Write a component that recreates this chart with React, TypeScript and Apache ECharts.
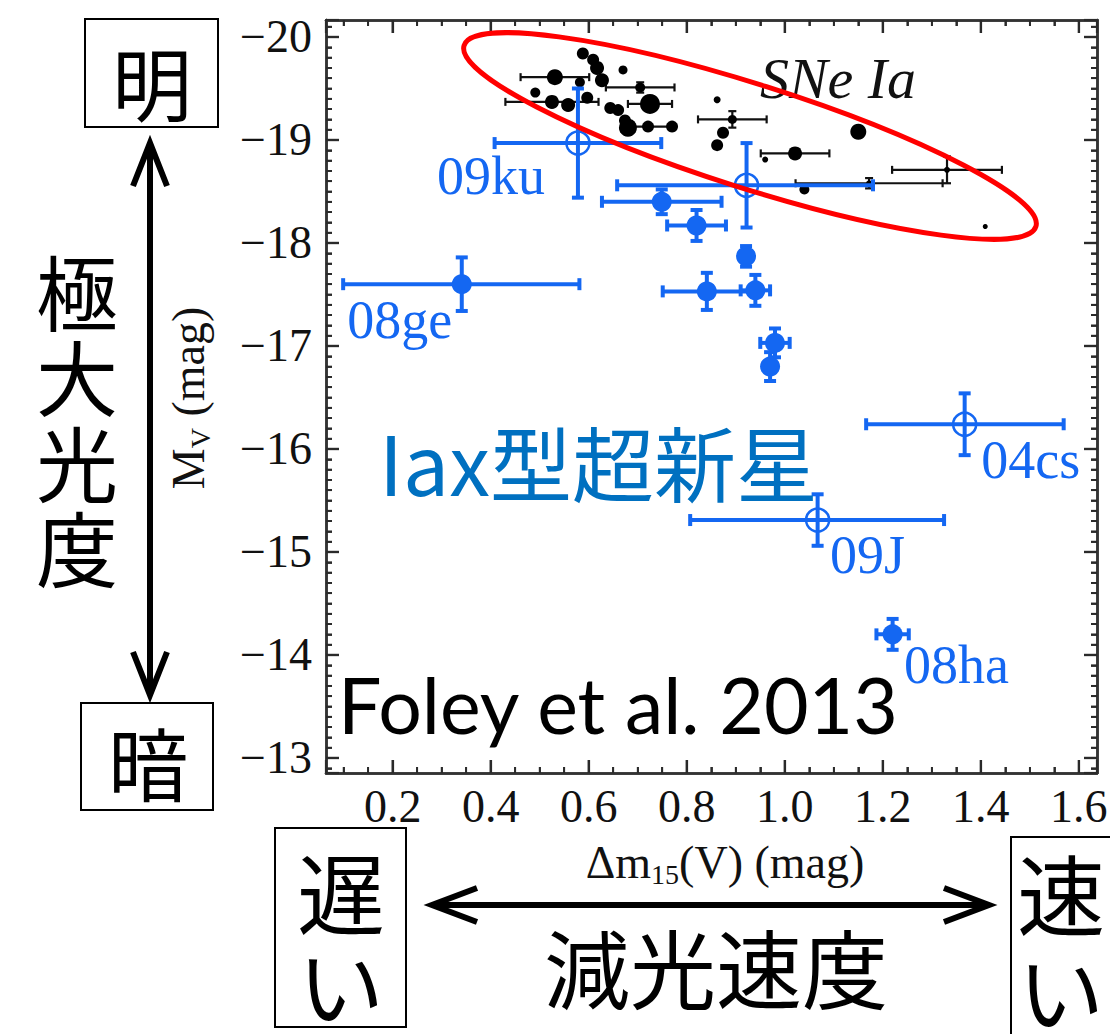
import React, { useEffect, useRef } from 'react';
import * as echarts from 'echarts';

// ---- axis ranges & ticks ----
const X_MIN = 0.064;
const X_MAX = 1.637;
const Y_MIN = -20.165;
const Y_MAX = -12.854;
const X_MAJOR = 0.2;
const X_MINOR = 0.05;
const Y_MAJOR = 1;
const Y_MINOR = 0.1;

// ---- normal SNe Ia (black) ----
const snIaDm15 = [0.588, 0.609, 0.617, 0.627, 0.531, 0.670, 0.491, 0.525, 0.558, 0.582, 0.597, 0.644, 0.660, 0.674, 0.680, 0.705, 0.725, 0.721, 0.770, 0.862, 0.893, 0.874, 0.862, 1.150, 1.021, 0.960, 1.040, 1.172, 1.331, 1.409];
const snIaMv = [-19.84, -19.78, -19.70, -19.58, -19.61, -19.68, -19.46, -19.37, -19.34, -19.56, -19.41, -19.31, -19.29, -19.19, -19.12, -19.51, -19.35, -19.13, -19.13, -19.39, -19.20, -19.07, -18.95, -19.08, -18.87, -18.81, -18.52, -18.58, -18.71, -18.16];
const snIaXErr = [0, 0, 0, 0, 0.07, 0, 0, 0.095, 0, 0, 0, 0, 0, 0, 0, 0.07, 0.045, 0.053, 0, 0, 0.07, 0, 0, 0, 0.07, 0, 0, 0.15, 0.112, 0];
const snIaYErr = [0, 0, 0, 0, 0, 0, 0, 0, 0, 0, 0, 0, 0, 0, 0, 0.05, 0, 0, 0, 0, 0.08, 0, 0, 0, 0, 0, 0, 0.05, 0.13, 0];
const snIaSize = [12, 12, 14, 14, 16, 9, 10, 14, 14, 10, 12, 12, 12, 12, 18, 10, 20, 12, 12, 7, 9, 12, 12, 16, 14, 6, 10, 6, 6, 5];

// ---- SNe Iax (blue) ----
const iaxName = ['09ku', '', '', '', '08ge', '', '', '', '', '', '04cs', '09J', '08ha'];
const iaxDm15 = [0.578, 0.749, 0.922, 0.820, 0.341, 0.921, 0.841, 0.940, 0.980, 0.970, 1.367, 1.067, 1.220];
const iaxMv = [-18.97, -18.40, -18.56, -18.17, -17.60, -17.87, -17.53, -17.54, -17.03, -16.80, -16.24, -15.31, -14.20];
const iaxXErrLo = [0.17, 0.122, 0.264, 0.06, 0.242, 0, 0.09, 0.03, 0.03, 0, 0.201, 0.26, 0.033];
const iaxXErrHi = [0.17, 0.122, 0.258, 0.06, 0.24, 0, 0.09, 0.03, 0.03, 0, 0.202, 0.258, 0.033];
const iaxYErr = [0.53, 0.12, 0.41, 0.15, 0.26, 0.10, 0.18, 0.15, 0.14, 0.14, 0.30, 0.25, 0.15];
const iaxOpen = [true, false, true, false, false, false, false, false, false, false, true, true, false];

// label offsets (px) relative to marker
const labelOffset: Record<string, [number, number]> = {
  '09ku': [-87, 33],
  '08ge': [-62, 36],
  '04cs': [66, 36],
  '09J': [50, 35],
  '08ha': [64, 31],
};

const BLUE = '#1467f2';
const SERIF = '"Liberation Serif", "Times New Roman", serif';
const CJK = '"Noto Sans CJK JP", "Noto Sans", sans-serif';

function isMultiple(v: number, step: number) {
  const k = v / step;
  return Math.abs(k - Math.round(k)) < 1e-6;
}

// tick values of the frame (axis decoration, not data)
function tickValues(lo: number, hi: number, step: number) {
  const out: number[] = [];
  for (let k = Math.ceil(lo / step - 1e-9); k * step <= hi + 1e-9; k++) out.push(+(k * step).toFixed(4));
  return out;
}

function makeAxis(kind: 'x' | 'y', position: string, step: number, len: number, showLabel: boolean) {
  const isX = kind === 'x';
  const min = isX ? X_MIN : Y_MIN;
  const max = isX ? X_MAX : Y_MAX;
  const ax: any = {
    type: 'value',
    position,
    min,
    max,
    minInterval: step,
    maxInterval: step,
    splitNumber: Math.round((max - min) / step),
    splitLine: { show: false },
    axisLine: { show: true, onZero: false, lineStyle: { color: '#333', width: 2.5 } },
    axisTick: { show: true, inside: true, length: len, lineStyle: { color: '#2a2a2a', width: len > 7 ? 2.2 : 1.8 } },
    axisLabel: showLabel
      ? {
          show: true,
          fontFamily: SERIF,
          fontSize: 46,
          color: '#111',
          margin: isX ? 10 : 14,
          formatter: (v: number) => {
            if (isX) return isMultiple(v, X_MAJOR) ? v.toFixed(1) : '';
            return isMultiple(v, Y_MAJOR) ? '\u2212' + Math.abs(Math.round(v)) : '';
          },
        }
      : { show: false },
  };
  if (!isX) ax.inverse = true;
  return ax;
}

function errorBarSeries(name: string, data: number[][], color: string, lineWidth: number, cap: number, z: number) {
  return {
    type: 'custom',
    name,
    z,
    silent: true,
    data,
    encode: { x: 0, y: 1 },
    renderItem: (params: any, api: any) => {
      const x = api.value(0);
      const y = api.value(1);
      const xl = api.value(2);
      const xr = api.value(3);
      const ye = api.value(4);
      const children: any[] = [];
      const style = { stroke: color, lineWidth };
      if (xl > 0 || xr > 0) {
        const a = api.coord([x - xl, y]);
        const b = api.coord([x + xr, y]);
        children.push({ type: 'line', shape: { x1: a[0], y1: a[1], x2: b[0], y2: b[1] }, style });
        children.push({ type: 'line', shape: { x1: a[0], y1: a[1] - cap / 2, x2: a[0], y2: a[1] + cap / 2 }, style });
        children.push({ type: 'line', shape: { x1: b[0], y1: b[1] - cap / 2, x2: b[0], y2: b[1] + cap / 2 }, style });
      }
      if (ye > 0) {
        const a = api.coord([x, y - ye]);
        const b = api.coord([x, y + ye]);
        children.push({ type: 'line', shape: { x1: a[0], y1: a[1], x2: b[0], y2: b[1] }, style });
        children.push({ type: 'line', shape: { x1: a[0] - cap / 2, y1: a[1], x2: a[0] + cap / 2, y2: a[1] }, style });
        children.push({ type: 'line', shape: { x1: b[0] - cap / 2, y1: b[1], x2: b[0] + cap / 2, y2: b[1] }, style });
      }
      return { type: 'group', children };
    },
  };
}

// inward frame ticks on all four sides, placed through the axes' scales
function frameTickSeries() {
  const data: number[][] = [];
  tickValues(X_MIN, X_MAX, X_MINOR).forEach((v) => data.push([v, Y_MIN, isMultiple(v, X_MAJOR) ? 1 : 0, 0]));
  tickValues(Y_MIN, Y_MAX, Y_MINOR).forEach((v) => data.push([X_MIN, v, isMultiple(v, Y_MAJOR) ? 1 : 0, 1]));
  return {
    type: 'custom',
    name: 'frame ticks',
    z: 6,
    silent: true,
    data,
    encode: { x: 0, y: 1 },
    renderItem: (params: any, api: any) => {
      const major = api.value(2) === 1;
      const isY = api.value(3) === 1;
      const len = major ? 13 : 6;
      const style = { stroke: '#2a2a2a', lineWidth: major ? 2.2 : 1.8 };
      if (!isY) {
        const v = api.value(0);
        const top = api.coord([v, Y_MIN]);
        const bot = api.coord([v, Y_MAX]);
        return {
          type: 'group',
          children: [
            { type: 'line', shape: { x1: top[0], y1: top[1], x2: top[0], y2: top[1] + len }, style },
            { type: 'line', shape: { x1: bot[0], y1: bot[1], x2: bot[0], y2: bot[1] - len }, style },
          ],
        };
      }
      const v = api.value(1);
      const left = api.coord([X_MIN, v]);
      const right = api.coord([X_MAX, v]);
      return {
        type: 'group',
        children: [
          { type: 'line', shape: { x1: left[0], y1: left[1], x2: left[0] + len, y2: left[1] }, style },
          { type: 'line', shape: { x1: right[0], y1: right[1], x2: right[0] - len, y2: right[1] }, style },
        ],
      };
    },
  };
}

function box(x: number, y: number, w: number, h: number) {
  return { type: 'rect', shape: { x, y, width: w, height: h }, style: { fill: 'none', stroke: '#000', lineWidth: 2 }, z: 20 };
}

function cjkText(text: string, x: number, y: number, size: number, fill = '#000') {
  return {
    type: 'text',
    x,
    y,
    z: 20,
    style: { text, fill, font: `${size}px ${CJK}`, align: 'center', verticalAlign: 'middle' },
  };
}

export default function App() {
  const ref = useRef<HTMLDivElement>(null);

  useEffect(() => {
    if (!ref.current) return;
    const chart = echarts.init(ref.current, undefined, { renderer: 'svg' });

    const blackErr = snIaDm15.map((x, i) => [x, snIaMv[i], snIaXErr[i], snIaXErr[i], snIaYErr[i]]);
    const blackPts = snIaDm15.map((x, i) => [x, snIaMv[i], snIaSize[i]]);
    const blueErr = iaxDm15.map((x, i) => [x, iaxMv[i], iaxXErrLo[i], iaxXErrHi[i], iaxYErr[i]]);
    const bluePts = iaxDm15.map((x, i) => {
      const open = iaxOpen[i];
      const nm = iaxName[i];
      const off = labelOffset[nm] || [0, 0];
      return {
        value: [x, iaxMv[i]],
        name: nm,
        symbolSize: open ? 23 : 20,
        itemStyle: open
          ? { color: 'rgba(255,255,255,0)', borderColor: BLUE, borderWidth: 2.5 }
          : { color: BLUE },
        label: {
          show: nm !== '',
          position: 'inside',
          offset: off,
          formatter: nm,
          fontFamily: SERIF,
          fontSize: 54,
          color: BLUE,
        },
      };
    });

    const arrowStyle = { stroke: '#000', lineWidth: 6, fill: 'none', lineJoin: 'miter' };

    chart.setOption({
      animation: false,
      backgroundColor: '#fff',
      grid: { left: 326, top: 20, right: 13, bottom: 261, containLabel: false, outerBoundsMode: 'none' },
      xAxis: [
        makeAxis('x', 'bottom', X_MINOR, 6, true),
        makeAxis('x', 'bottom', X_MAJOR, 13, false),
        makeAxis('x', 'top', X_MINOR, 6, false),
        makeAxis('x', 'top', X_MAJOR, 13, false),
      ],
      yAxis: [
        makeAxis('y', 'left', Y_MINOR, 6, true),
        makeAxis('y', 'left', Y_MAJOR, 13, false),
        makeAxis('y', 'right', Y_MINOR, 6, false),
        makeAxis('y', 'right', Y_MAJOR, 13, false),
      ],
      series: [
        frameTickSeries(),
        errorBarSeries('SNe Ia errors', blackErr, '#111', 2.2, 8, 2),
        {
          type: 'scatter',
          name: 'SNe Ia',
          z: 3,
          data: blackPts,
          symbol: 'circle',
          symbolSize: (v: number[]) => v[2],
          itemStyle: { color: '#000', opacity: 1 },
        },
        errorBarSeries('SNe Iax errors', blueErr, BLUE, 4, 12, 4),
        {
          type: 'scatter',
          name: 'SNe Iax',
          z: 5,
          data: bluePts,
          symbol: 'circle',
          itemStyle: { opacity: 1 },
        },
      ],
      graphic: [
        {
          type: 'ellipse',
          x: 750,
          y: 136,
          rotation: -17.6 * Math.PI / 180,
          shape: { cx: 0, cy: 0, rx: 300, ry: 52 },
          style: { fill: 'none', stroke: '#f00', lineWidth: 5 },
          z: 30,
        },
        {
          type: 'text',
          x: 838,
          y: 78,
          z: 20,
          style: { text: 'SNe Ia', font: `italic 58px ${SERIF}`, fill: '#111', align: 'center', verticalAlign: 'middle' },
        },
        {
          type: 'text',
          x: 188,
          y: 398,
          rotation: Math.PI / 2,
          z: 20,
          style: {
            text: '{m|M}{s|V}{m| (mag)}',
            align: 'center',
            verticalAlign: 'middle',
            rich: {
              m: { fontFamily: SERIF, fontSize: 46, lineHeight: 52, fill: '#111', color: '#111' },
              s: { fontFamily: SERIF, fontSize: 28, lineHeight: 52, verticalAlign: 'bottom', fill: '#111', color: '#111' },
            },
          },
        },
        {
          type: 'text',
          x: 725,
          y: 862,
          z: 20,
          style: {
            text: '{m|\u0394m}{s|15}{m|(V) (mag)}',
            align: 'center',
            verticalAlign: 'middle',
            rich: {
              m: { fontFamily: SERIF, fontSize: 46, lineHeight: 52, fill: '#111', color: '#111' },
              s: { fontFamily: SERIF, fontSize: 28, lineHeight: 52, verticalAlign: 'bottom', fill: '#111', color: '#111' },
            },
          },
        },
        {
          type: 'text',
          x: 379,
          y: 460,
          z: 20,
          style: { text: 'Iax型超新星', font: `82px ${CJK}`, fill: '#0070c0', align: 'left', verticalAlign: 'middle' },
        },
        {
          type: 'text',
          x: 338,
          y: 704,
          z: 20,
          style: { text: 'Foley et al. 2013', font: `77px Lato, "Open Sans", sans-serif`, fill: '#000', align: 'left', verticalAlign: 'middle' },
        },
        box(85, 19, 133, 108),
        cjkText('明', 152, 80, 80),
        box(81, 703, 132, 107),
        cjkText('暗', 148, 760, 80),
        { type: 'line', shape: { x1: 150, y1: 144, x2: 150, y2: 693 }, style: { stroke: '#000', lineWidth: 6 }, z: 20 },
        { type: 'polyline', shape: { points: [[133, 186], [150, 143], [167, 186]] }, style: arrowStyle, z: 20 },
        { type: 'polyline', shape: { points: [[133, 652], [150, 695], [167, 652]] }, style: arrowStyle, z: 20 },
        cjkText('極', 77, 289, 82),
        cjkText('大', 77, 374, 82),
        cjkText('光', 77, 460, 82),
        cjkText('度', 77, 545, 82),
        box(275, 828, 131, 199),
        cjkText('遅', 341, 889, 88),
        cjkText('い', 341, 982, 86),
        box(1011, 837, 140, 240),
        cjkText('速', 1061, 890, 88),
        cjkText('い', 1061, 988, 86),
        { type: 'line', shape: { x1: 433, y1: 905, x2: 988, y2: 905 }, style: { stroke: '#000', lineWidth: 6 }, z: 20 },
        { type: 'polyline', shape: { points: [[477, 888], [432, 905], [477, 922]] }, style: arrowStyle, z: 20 },
        { type: 'polyline', shape: { points: [[944, 888], [989, 905], [944, 922]] }, style: arrowStyle, z: 20 },
        cjkText('減光速度', 716, 965, 86),
      ],
    });

    return () => chart.dispose();
  }, []);

  return (
    <div
      ref={ref}
      style={{ position: 'absolute', left: 0, top: 0, width: 1110, height: 1034, background: '#fff' }}
    />
  );
}
